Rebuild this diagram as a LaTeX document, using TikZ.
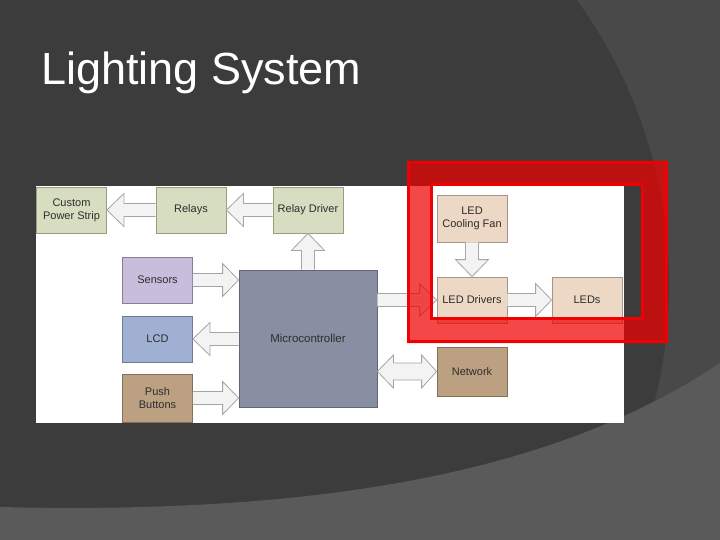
\documentclass[tikz,border=0pt]{standalone}
\usepackage{fontspec}
\setmainfont{Liberation Sans}
\usepackage{xcolor}
\definecolor{bgdark}{RGB}{60,60,60}
\definecolor{bgband}{RGB}{73,73,73}
\definecolor{bglight}{RGB}{90,90,90}
\definecolor{blkgreen}{RGB}{215,221,192}
\definecolor{blkgreenln}{RGB}{150,160,128}
\definecolor{blkpurple}{RGB}{200,190,220}
\definecolor{blkpurpleln}{RGB}{135,125,155}
\definecolor{blkblue}{RGB}{160,176,210}
\definecolor{blkblueln}{RGB}{110,122,152}
\definecolor{blktan}{RGB}{188,160,130}
\definecolor{blktanln}{RGB}{130,110,90}
\definecolor{blkslate}{RGB}{136,143,162}
\definecolor{blkslateln}{RGB}{95,100,118}
\definecolor{blkpeach}{RGB}{236,216,196}
\definecolor{blkpeachln}{RGB}{165,150,135}
\definecolor{blktext}{RGB}{45,45,45}
\definecolor{arrfill}{RGB}{243,243,243}
\definecolor{arrline}{RGB}{165,165,165}
\definecolor{hlred}{RGB}{240,0,0}
\usetikzlibrary{calc}

\newcommand{\harrow}[3]{%
  \draw[blockarrow] ($(#1)+(0,-6.5)$) -- ($(#2)+(#3,-6.5)$) -- ($(#2)+(#3,-16.5)$) -- (#2)
    -- ($(#2)+(#3,16.5)$) -- ($(#2)+(#3,6.5)$) -- ($(#1)+(0,6.5)$);}
\newcommand{\varrow}[3]{%
  \draw[blockarrow] ($(#1)+(-6.5,0)$) -- ($(#2)+(-6.5,#3)$) -- ($(#2)+(-16.5,#3)$) -- (#2)
    -- ($(#2)+(16.5,#3)$) -- ($(#2)+(6.5,#3)$) -- ($(#1)+(6.5,0)$);}

\begin{document}
\begin{tikzpicture}[x=1pt,y=-1pt,
  blk/.style={draw,minimum width=70pt,minimum height=46pt,inner sep=1pt,align=center,
    font=\fontsize{11}{13}\selectfont,text=blktext,line width=0.8pt},
  greenblk/.style={blk,fill=blkgreen,draw=blkgreenln},
  purpleblk/.style={blk,fill=blkpurple,draw=blkpurpleln},
  blueblk/.style={blk,fill=blkblue,draw=blkblueln},
  tanblk/.style={blk,fill=blktan,draw=blktanln},
  peachblk/.style={blk,fill=blkpeach,draw=blkpeachln},
  blockarrow/.style={draw=arrline,fill=arrfill,line width=0.8pt,line join=miter}]
  \useasboundingbox (0,0) rectangle (720,540);
  \clip (0,0) rectangle (720,540);
  \fill[bgband] (0,0) rectangle (720,540);
  \fill[bgdark] (186,284) circle (483);
  \fill[bglight] (0,507) .. controls (330,515) and (560,470) .. (720,363) -- (720,540) -- (0,540) -- cycle;

  \node[anchor=base west,inner sep=0pt,text=white,font=\fontsize{45}{50}\selectfont] (title) at (41,85) {Lighting System};

  \fill[white] (36,186) rectangle (624,423);

  \node[greenblk] (custom) at (71.5,210) {Custom\\Power Strip};
  \node[greenblk] (relays) at (191,210) {Relays};
  \node[greenblk] (rdriver) at (308,210) {Relay Driver};
  \node[purpleblk] (sensors) at (157.5,280) {Sensors};
  \node[blueblk] (lcd) at (157.5,339) {LCD};
  \node[tanblk,minimum height=48pt] (push) at (157.5,398) {Push\\Buttons};
  \node[blk,fill=blkslate,draw=blkslateln,minimum width=138pt,minimum height=137pt,font=\fontsize{11.5}{13}\selectfont] (micro) at (308,338.5) {Microcontroller};
  \node[peachblk,minimum height=47pt] (fan) at (472,218.5) {LED\\Cooling Fan};
  \node[peachblk] (drivers) at (472,300) {LED Drivers};
  \node[peachblk] (leds) at (587,300) {LEDs};
  \node[tanblk,minimum height=49pt] (network) at (472,371.5) {Network};

  \harrow{relays.west}{custom.east}{17}
  \harrow{rdriver.west}{relays.east}{17}
  \varrow{micro.north -| rdriver}{rdriver.south}{17}
  \harrow{sensors.east}{sensors.east -| micro.west}{-16}
  \harrow{micro.west |- lcd}{lcd.east}{17}
  \harrow{push.east}{push.east -| micro.west}{-16}
  \harrow{micro.east |- drivers}{drivers.west}{-17}
  \varrow{fan.south}{drivers.north}{-17}
  \harrow{drivers.east}{leds.west}{-16}
  \draw[blockarrow] (micro.east |- network) -- ($(micro.east |- network)+(16,-16.5)$) -- ($(micro.east |- network)+(16,-8.5)$)
    -- ($(network.west)+(-15,-8.5)$) -- ($(network.west)+(-15,-16.5)$) -- (network.west)
    -- ($(network.west)+(-15,16.5)$) -- ($(network.west)+(-15,8.5)$)
    -- ($(micro.east |- network)+(16,8.5)$) -- ($(micro.east |- network)+(16,16.5)$) -- cycle;

  \fill[hlred,fill opacity=0.72,even odd rule] (407,161) rectangle (668,343) (430,183) rectangle (644,320);
  \draw[hlred,line width=3pt] (408.5,162.5) rectangle (666.5,341.5);
  \draw[hlred,line width=3pt] (431.5,184.5) rectangle (642.5,318.5);
\end{tikzpicture}
\end{document}
